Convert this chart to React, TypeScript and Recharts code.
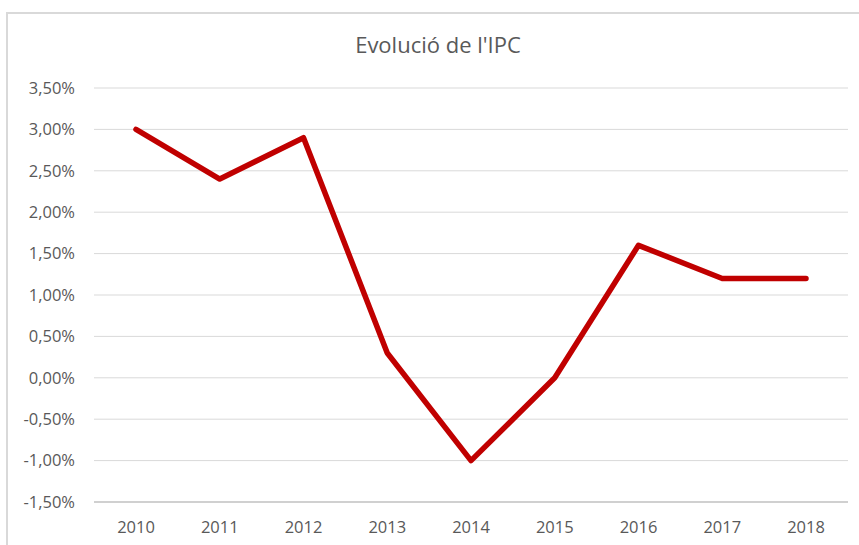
import React from 'react';
import { LineChart, Line, XAxis, YAxis, CartesianGrid } from 'recharts';

const years = ['2010', '2011', '2012', '2013', '2014', '2015', '2016', '2017', '2018'];
const ipc = [3.0, 2.4, 2.9, 0.3, -1.0, 0.0, 1.6, 1.2, 1.2];
const yTicks = [-1.5, -1.0, -0.5, 0, 0.5, 1.0, 1.5, 2.0, 2.5, 3.0, 3.5];

const chartData = years.map((year, i) => ({ year, ipc: ipc[i] }));

const fmtPct = (v: number) => `${v.toFixed(2).replace('.', ',')}%`;

const FONT = '"Open Sans", "Liberation Sans", sans-serif';
const TEXT = '#595959';

const App: React.FC = () => {
  return (
    <div style={{ position: 'absolute', left: 0, top: 0, width: 859, height: 545, background: '#fff', overflow: 'hidden' }}>
      <div
        style={{
          position: 'absolute',
          left: 6,
          top: 12,
          width: 900,
          height: 600,
          borderLeft: '2px solid #d9d9d9',
          borderTop: '2px solid #d9d9d9',
        }}
      />
      <div
        style={{
          position: 'absolute',
          left: 0,
          top: 29,
          width: 876,
          textAlign: 'center',
          fontFamily: FONT,
          fontSize: 22,
          color: TEXT,
        }}
      >
        Evolució de l'IPC
      </div>
      <div style={{ position: 'absolute', left: 0, top: 0 }}>
        <LineChart width={859} height={545} data={chartData} margin={{ top: 88, right: 11, bottom: 0, left: 0 }}>
          <CartesianGrid vertical={false} stroke="#d9d9d9" strokeWidth={1} />
          <XAxis
            dataKey="year"
            height={43}
            padding={{ left: 42, right: 42 }}
            tickLine={false}
            axisLine={{ stroke: '#d0d0d0', strokeWidth: 2 }}
            tickSize={0}
            tickMargin={19}
            tick={{ fill: TEXT, fontSize: 16.5, fontFamily: FONT }}
          />
          <YAxis
            width={94}
            domain={[-1.5, 3.5]}
            ticks={yTicks}
            tickFormatter={fmtPct}
            axisLine={false}
            tickLine={false}
            tickSize={0}
            tickMargin={19}
            tick={{ fill: TEXT, fontSize: 16.5, fontFamily: FONT }}
          />
          <Line
            type="linear"
            dataKey="ipc"
            stroke="#c00000"
            strokeWidth={5.5}
            strokeLinecap="round"
            strokeLinejoin="round"
            dot={false}
            activeDot={false}
            isAnimationActive={false}
          />
        </LineChart>
      </div>
    </div>
  );
};

export default App;
